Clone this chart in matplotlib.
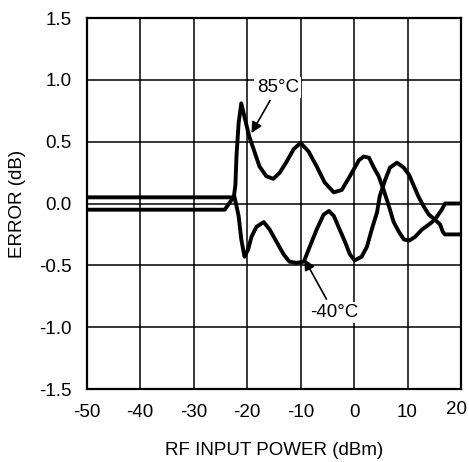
import matplotlib
matplotlib.use("Agg")
import matplotlib.pyplot as plt
import matplotlib.transforms as mtransforms

plt.rcParams["font.family"] = ["Liberation Sans", "DejaVu Sans"]
plt.rcParams["axes.unicode_minus"] = False

# error curves (x in dBm, y in dB)
hot_x = [-50, -22.5, -22.2, -22.0, -21.6, -21.1, -20.5, -19.6, -18.8, -17.7, -16.4,
         -15.1, -13.9, -12.6, -11.3, -10.0, -8.5, -7.0, -5.5, -3.8, -2.3, -0.8,
         0.9, 1.8, 2.8, 3.7, 4.6, 5.6, 6.5, 7.4, 8.4, 9.3, 10.3, 11.4, 12.7, 14.0,
         15.1, 16.4, 17.0, 20]
hot_y = [0.05, 0.05, 0.15, 0.38, 0.65, 0.81, 0.70, 0.54, 0.44, 0.30, 0.22,
         0.20, 0.25, 0.34, 0.44, 0.49, 0.42, 0.30, 0.17, 0.09, 0.11, 0.22,
         0.35, 0.38, 0.37, 0.29, 0.22, 0.10, -0.02, -0.15, -0.23, -0.29, -0.30,
         -0.27, -0.21, -0.17, -0.13, -0.05, 0.0, 0.0]

cold_x = [-50, -24.2, -22.4, -21.6, -21.1, -20.5, -19.8, -19.2, -18.3, -16.9, -15.8,
          -14.5, -13.2, -12.1, -10.8, -9.4, -8.3, -7.0, -5.7, -4.7, -3.8, -2.7,
          -1.7, -0.8, 0.1, 1.4, 2.4, 3.3, 4.3, 4.8, 5.8, 6.7, 8.0, 9.3, 10.3, 11.2,
          12.1, 13.1, 14.0, 15.1, 16.1, 16.6, 17.0, 20]
cold_y = [-0.05, -0.05, 0.06, -0.10, -0.29, -0.43, -0.37, -0.27, -0.19, -0.15, -0.21,
          -0.31, -0.41, -0.47, -0.48, -0.47, -0.35, -0.21, -0.09, -0.06, -0.10, -0.21,
          -0.31, -0.41, -0.46, -0.43, -0.35, -0.21, -0.07, 0.06, 0.19, 0.29, 0.33, 0.29,
          0.23, 0.14, 0.05, -0.03, -0.09, -0.13, -0.17, -0.23, -0.25, -0.25]

x_ticks = [-50, -40, -30, -20, -10, 0, 10, 20]
y_ticks = [-1.5, -1.0, -0.5, 0.0, 0.5, 1.0, 1.5]


def main() -> None:
    fig = plt.figure(figsize=(4.69, 4.62), dpi=100)
    ax = fig.add_axes([0.185, 0.158, 0.798, 0.803])

    for xs, ys in [(hot_x, hot_y), (cold_x, cold_y)]:
        ax.plot(xs, ys, color="black", linewidth=2.8,
                solid_joinstyle="round", solid_capstyle="round", zorder=3)

    ax.set_xlim(-50, 20)
    ax.set_ylim(-1.5, 1.5)
    ax.set_xticks(x_ticks)
    ax.set_yticks(y_ticks)
    ax.set_yticklabels([f"{v:.1f}" for v in y_ticks])
    ax.tick_params(length=0, labelsize=13.5, pad=11)
    ax.grid(True, color="black", linewidth=1.1)
    for spine in ax.spines.values():
        spine.set_linewidth(1.6)

    # last x label sits a little left and up so it stays inside the figure
    last = ax.get_xticklabels()[-1]
    shift = mtransforms.ScaledTranslation(-5 / 100, 3 / 100, fig.dpi_scale_trans)
    last.set_transform(last.get_transform() + shift)

    ax.set_xlabel("RF INPUT POWER (dBm)", fontsize=13.5, labelpad=15)
    ax.set_ylabel("ERROR (dB)", fontsize=13.5, labelpad=9)

    box = dict(boxstyle="square,pad=0.12", fc="white", ec="none")
    arrow = dict(arrowstyle="-|>", color="black", lw=1.2, mutation_scale=16,
                 shrinkA=2, shrinkB=0)
    ax.annotate("85°C", xy=(-19.2, 0.57), xytext=(-14.3, 0.94), fontsize=13.5,
                ha="center", va="center", bbox=box, arrowprops=arrow, zorder=4)
    ax.annotate("-40°C", xy=(-9.3, -0.45), xytext=(-3.8, -0.88), fontsize=13.5,
                ha="center", va="center", bbox=box, arrowprops=arrow, zorder=4)

    fig.savefig("out.png", dpi=100)
    plt.close(fig)


if __name__ == "__main__":
    main()
